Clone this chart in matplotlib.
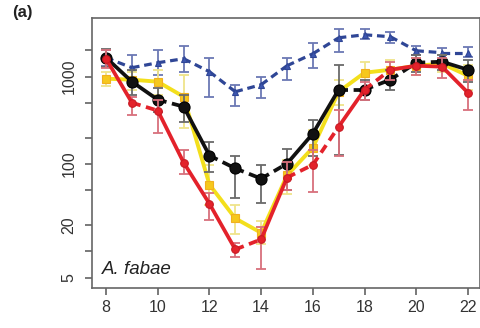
import matplotlib
matplotlib.use("Agg")
import matplotlib.pyplot as plt
from matplotlib.ticker import FixedLocator, NullLocator, FixedFormatter

plt.rcParams["font.family"] = ["Liberation Sans", "DejaVu Sans"]

# Temperature (°C)
temps = [8, 9, 10, 11, 12, 13, 14, 15, 16, 17, 18, 19, 20, 21, 22]

# Series values with lower / upper error limits
blue_val = [1650, 1268, 1446, 1607, 1141, 673, 810, 1336, 1833, 2793, 3023, 2870, 1983, 1883, 1883]
blue_lo = [1336, 877, 1054, 1141, 590, 466, 575, 924, 1268, 1932, 2722, 2448, 1786, 1565, 1694]
blue_hi = [2037, 1786, 2037, 2263, 1649, 810, 1000, 1649, 2448, 3542, 3542, 3273, 2263, 2147, 2204]

black_val = [1650, 877, 545, 454, 125, 89, 68, 101, 223, 710, 710, 924, 1446, 1485, 1202]
black_lo = [1301, 622, 398, 306, 80, 41, 36, 51, 122, 128, 546, 710, 1141, 1202, 877]
black_hi = [2090, 1202, 748, 622, 180, 122, 98, 150, 322, 1372, 924, 1202, 1786, 1786, 1565]

yellow_val = [949, 924, 877, 590, 58, 23.8, 16.3, 74, 154, 673, 1111, 1202, 1336, 1409, 1027]
yellow_lo = [789, 710, 622, 261, 34, 15.6, 12, 45, 98, 478, 710, 877, 1054, 1141, 710]
yellow_hi = [1141, 1141, 1202, 1054, 98, 34, 22, 112, 247, 924, 1485, 1565, 1649, 1786, 1372]

red_val = [1607, 504, 409, 104, 35, 10.5, 13.7, 70, 98, 268, 710, 1202, 1336, 1302, 656]
red_lo = [1268, 367, 229, 76, 23, 8.5, 6.2, 51, 48, 122, 546, 924, 1054, 974, 419]
red_hi = [2037, 590, 546, 146, 47, 12.3, 19.2, 106, 146, 419, 877, 1485, 1649, 1649, 924]

# Line style of each segment between consecutive temperatures
blue_seg = ["--"] * 14
black_seg = ["-", "-", "--", "-", "--", "--", "--", "-", "-", "--", "--", "--", "--", "-"]
yellow_seg = ["-"] * 14
red_seg = ["-", "--", "-", "-", "-", "--", "-", "--", "--", "-", "--", "-", "-", "-"]

y_ticks = [5, 10, 20, 50, 100, 200, 500, 1000, 2000]
y_labels = ["5", "", "20", "", "100", "", "", "1000", ""]
x_ticks = [8, 10, 12, 14, 16, 18, 20, 22]

fig = plt.figure(figsize=(4.81, 3.28), dpi=100)
ax = fig.add_axes([0.191, 0.122, 0.806, 0.823])


def draw(val, lo, hi, seg, color, ecolor, marker, ms, mfc, mec, lw, z):
    yerr = [[v - l for v, l in zip(val, lo)], [h - v for v, h in zip(val, hi)]]
    ax.errorbar(temps, val, yerr=yerr, fmt="none", ecolor=ecolor, elinewidth=1.3,
                capsize=3.5, capthick=1.3, zorder=z)
    for i, ls in enumerate(seg):
        line, = ax.plot(temps[i:i + 2], val[i:i + 2], color=color, lw=lw, ls=ls,
                        solid_capstyle="butt", zorder=z + 0.1)
        if ls == "--":
            line.set_dashes((2.4, 1.5))
    ax.plot(temps, val, ls="none", marker=marker, ms=ms, mfc=mfc, mec=mec,
            mew=0.8, zorder=z + 0.2)


draw(blue_val, blue_lo, blue_hi, blue_seg, "#2f4696", "#6b78b4", "^", 5, "#3d56b0", "#2f4696", 2.3, 2)
draw(yellow_val, yellow_lo, yellow_hi, yellow_seg, "#f3df1c", "#efe48a", "s", 6, "#f6c81c", "#f0b020", 2.8, 3)
draw(black_val, black_lo, black_hi, black_seg, "#111111", "#6a6a6a", "o", 8, "#111111", "#000000", 2.7, 4)
draw(red_val, red_lo, red_hi, red_seg, "#e3222b", "#d8707c", "o", 5.5, "#e3222b", "#c81a24", 2.7, 5)

ax.set_yscale("log")
ax.set_xlim(7.45, 22.45)
ax.set_ylim(3.8, 4700)

ax.yaxis.set_major_locator(FixedLocator(y_ticks))
ax.yaxis.set_major_formatter(FixedFormatter(y_labels))
ax.yaxis.set_minor_locator(NullLocator())
ax.set_xticks(x_ticks)
ax.set_xticklabels([str(t) for t in x_ticks])

for lab in ax.get_yticklabels():
    lab.set_rotation(90)
    lab.set_va("center")

ax.tick_params(axis="both", direction="out", length=5, width=1.1, color="#555555",
               labelsize=11.5, labelcolor="#333333")
ax.tick_params(axis="y", pad=6)
ax.tick_params(axis="x", pad=4)
for sp in ax.spines.values():
    sp.set_color("#666666")
    sp.set_linewidth(1.2)

ax.text(0.025, 0.05, "A. fabae", transform=ax.transAxes, fontsize=13.5,
        style="italic", color="#222222", ha="left", va="baseline")
fig.text(0.025, 0.962, "(a)", fontsize=12, fontweight="bold", color="#222222",
         ha="left", va="center")

fig.savefig("out.png", dpi=100)
